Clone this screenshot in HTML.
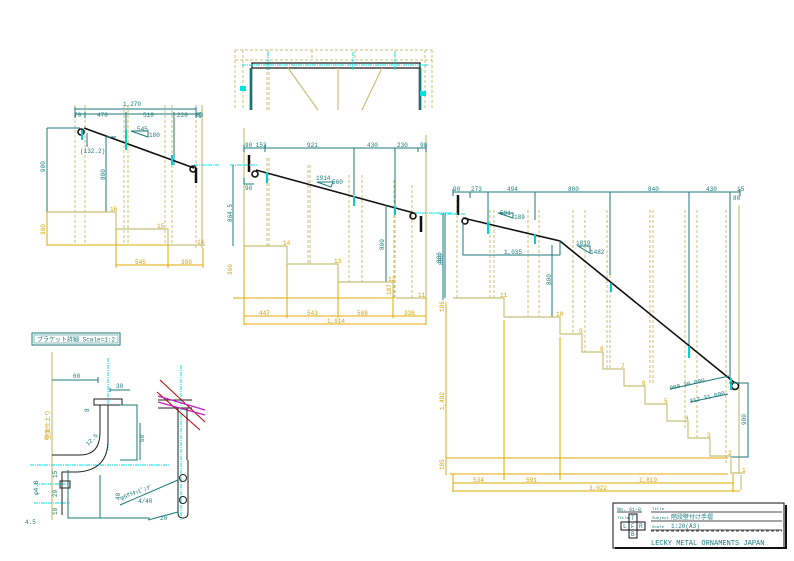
<!DOCTYPE html>
<html><head><meta charset="utf-8"><style>
html,body{margin:0;padding:0;background:#fff;}
svg{display:block;}
text{font-family:"Liberation Mono","Noto Sans CJK JP",monospace;font-size:6px;fill:#1a7a7a;}
.o{fill:#d9a000}
.tl{stroke:#1a7a7a;stroke-width:1;fill:none}
.dl{stroke:#c8c078;stroke-width:1;stroke-dasharray:3,2;fill:none}
.ol{stroke:#c8c078;stroke-width:1.2;fill:none}
.or{stroke:#e0a800;stroke-width:1;fill:none}
.hr{stroke:#111;stroke-width:1.6;fill:none}
.cy{stroke:#00e0e0;stroke-width:1;stroke-dasharray:4,1,1,1;fill:none}
</style></head><body>
<svg width="794" height="561" viewBox="0 0 794 561" xmlns="http://www.w3.org/2000/svg">
<rect width="794" height="561" fill="#fff"/>

<!-- ===== LEFT ELEVATION ===== -->
<g>
<path class="dl" d="M75 105V245M85 105V245M124 105V245M128 105V245M165 105V245M172 105V245M196 105V250"/>
<path class="ol" d="M202 105V248"/>
<path class="tl" d="M75 109H196M75 114H200M75 107V118M85 112V118M126 112V150M174 112V165M196 107V118M200 112V118"/>
<text x="123" y="106">1,270</text>
<text x="74" y="117">70</text><text x="97" y="117">470</text><text x="143" y="117">510</text><text x="177" y="117">220</text><text x="196" y="117">80</text>
<path class="hr" d="M84 128L194 168"/>
<circle cx="81" cy="132" r="3" class="hr" stroke-width="1.2"/>
<circle cx="193" cy="169" r="3" class="hr" stroke-width="1.2"/>
<path d="M196 168V183" stroke="#111" stroke-width="2.5"/>
<path class="cy" d="M194 165H220"/>
<path d="M126 130V150M172 155V165M82 130V140" stroke="#00d0d0" stroke-width="2"/>
<path class="tl" d="M47 128H80M47 128V212M106 137V212M106 137H116M87 133V146H88"/>
<text x="80" y="153">(132.2)</text>
<text transform="translate(45 172) rotate(-90)">900</text>
<text transform="translate(105 180) rotate(-90)">800</text>
<path class="tl" d="M131 131L148 131L148 137Z"/>
<text x="137" y="131">545</text><text x="149" y="137">180</text>
<path class="ol" d="M47 212H116V229H168V245H205"/>
<path class="or" d="M47 212V245H168M116 229V268M168 245V268M203 248V268M116 265H203"/>
<text class="o" transform="translate(45 235) rotate(-90)">360</text>
<text class="o" x="135" y="264">545</text><text class="o" x="181" y="264">380</text>
<text class="o" x="110" y="211">16</text><text class="o" x="157" y="228">15</text><text class="o" x="197" y="244">14</text>
</g>

<!-- ===== TOP PLAN ===== -->
<g>
<path class="dl" d="M235 50H432M235 60H432M235 50V110M243 50V110M425 50V110M432 50V110M268 50V60M312 50V60M355 50V60M395 50V60"/>
<path class="dl" d="M267 62V110M269 62V110M420 62V110"/>
<rect x="252" y="63" width="168" height="5" fill="none" stroke="#111" stroke-width="1.2"/>
<path d="M251 68V110M420 68V110" stroke="#111" stroke-width="2.5"/>
<path d="M251 68V110M420 68V110" stroke="#00e0e0" stroke-width="1"/>
<path class="ol" stroke-width="0.8" d="M288 68L318 110M382 68L362 110M338 68V110"/>
<path class="cy" d="M242 65H428M268 52V70M353 52V70M395 52V70"/>
<rect x="240" y="86" width="6" height="5" fill="#00e0e0"/><rect x="420" y="91" width="6" height="5" fill="#00e0e0"/>
</g>

<!-- ===== MIDDLE ELEVATION ===== -->
<g>
<path class="ol" d="M244 128V246M426 135V300"/>
<path class="dl" d="M267 158V246M269 158V246M308 165V264M310 165V264M349 175V282M362 175V282M394 180V298M395 180V298M412 185V298"/>
<path class="tl" d="M244 148H426M244 145V152M265 145V152M354 148V195M395 148V205M418 148V152M426 145V152"/>
<text x="245" y="147">90 153</text><text x="307" y="147">921</text><text x="367" y="147">430</text><text x="397" y="147">230</text><text x="420" y="147">90</text>
<path class="hr" d="M256 170L414 213"/>
<circle cx="255" cy="174" r="3" class="hr" stroke-width="1.2"/>
<circle cx="413" cy="216" r="3" class="hr" stroke-width="1.2"/>
<path d="M249 155V172M421 216V232" stroke="#111" stroke-width="2.5"/>
<path d="M267 172V183M354 196V206M395 206V215" stroke="#00d0d0" stroke-width="2"/>
<path class="cy" d="M230 165H258M415 213H452"/>
<path class="tl" d="M233 165V246M244 178V184H254M386 205V282M443 213V300"/>
<text transform="translate(232 222) rotate(-90)">864.5</text>
<text transform="translate(384 250) rotate(-90)">800</text>
<text transform="translate(441 263) rotate(-90)">886</text>
<text x="245" y="190">90</text>
<path class="tl" d="M317 182L333 182L331 187Z"/>
<text x="316" y="180">1914</text><text x="332" y="184">560</text>
<path class="ol" d="M244 246H287V264H338V282H393V298M396 298H426"/>
<path class="or" d="M233 298H393M244 246V325M287 264V318M338 282V318M393 298V318M426 298V325M244 316H426M244 324H426"/>
<text class="o" transform="translate(232 275) rotate(-90)">360</text>
<text class="o" transform="translate(391 295) rotate(-90)">187</text>
<text class="o" x="259" y="315">447</text><text class="o" x="307" y="315">543</text><text class="o" x="357" y="315">588</text><text class="o" x="404" y="315">336</text>
<text class="o" x="327" y="323">1,914</text>
<text class="o" x="283" y="245">14</text><text class="o" x="334" y="263">13</text><text class="o" x="388" y="281">12</text><text class="o" x="418" y="297">11</text>
</g>

<!-- ===== RIGHT ELEVATION ===== -->
<g>
<path class="dl" d="M457 200V298M490 210V298M494 210V298M528 210V317M539 210V317M573 210V334M585 210V352M607 210V370M610 210V370M650 210V385M653 210V385M685 210V430M697 210V440M726 210V465"/>
<path class="ol" d="M739 205V474M741 475V490"/>
<path class="tl" d="M453 192H740M453 189V196M470 192V198M488 192V225M535 192V220M610 192V275M689 192V345M730 192V380M740 189V196"/>
<text x="453" y="191">90</text><text x="471" y="191">273</text><text x="507" y="191">494</text><text x="568" y="191">800</text><text x="648" y="191">840</text><text x="706" y="191">430</text><text x="737" y="191">15</text>
<text x="733" y="200">80</text>
<path class="hr" d="M463 218L560 241L735 383"/>
<circle cx="465" cy="221" r="3" class="hr" stroke-width="1.2"/>
<circle cx="735" cy="386" r="3.5" class="hr" stroke-width="1.2"/>
<path d="M458 195V215" stroke="#111" stroke-width="2.5"/>
<path d="M488 222V234M535 234V244M611 283V292M689 346V358M731 378V390" stroke="#00d0d0" stroke-width="2"/>
<path class="cy" d="M440 214H466"/>
<path class="tl" d="M445 214V298M463 222V255H560M552 245V317M560 240V255M729 383H748V457H731"/>
<text transform="translate(443 265) rotate(-90)">886</text>
<text transform="translate(551 285) rotate(-90)">800</text>
<text transform="translate(746 425) rotate(-90)">900</text>
<text x="504" y="254">1,035</text>
<path class="tl" d="M498 213L513 213L513 218Z M578 246L590 246L590 253Z M670 389L729 376M690 402L728 394"/>
<text x="500" y="215">591</text><text x="514" y="219">189</text>
<text x="576" y="245">1819</text><text x="590" y="254">1482</text>
<text x="670" y="390" transform="rotate(-13 670 390)">900 30.000</text>
<text x="690" y="403" transform="rotate(-13 690 403)">312 31.000</text>
<path class="ol" d="M453 298H504V317H560V334H582V352H603V369H624V386H645V404H667V421H688V438H710V456H731V473H745"/>
<path class="or" d="M446 302V475M446 458H728M450 474H728M453 474V492M504 320V480M560 337V480M733 474V492M453 483H733M453 491H740"/>
<text class="o" transform="translate(444 410) rotate(-90)">1,482</text>
<text class="o" transform="translate(444 312) rotate(-90)">186</text>
<text class="o" transform="translate(444 470) rotate(-90)">185</text>
<text class="o" x="473" y="482">534</text><text class="o" x="526" y="482">591</text><text class="o" x="639" y="482">1,819</text>
<text class="o" x="589" y="490">3,022</text>
<text class="o" x="500" y="297">11</text><text class="o" x="556" y="316">10</text>
<text class="o" x="579" y="333">9</text><text class="o" x="600" y="351">8</text><text class="o" x="621" y="368">7</text><text class="o" x="642" y="385">6</text><text class="o" x="664" y="403">5</text><text class="o" x="685" y="420">4</text><text class="o" x="707" y="437">3</text><text class="o" x="728" y="455">2</text><text class="o" x="742" y="472">1</text>
</g>

<!-- ===== BRACKET DETAIL ===== -->
<g>
<rect x="32" y="333" width="88" height="12" fill="none" stroke="#1a7a7a"/>
<rect x="34" y="335" width="84" height="8" fill="none" stroke="#1a7a7a" stroke-width="0.5"/>
<text x="37" y="341.5">ブラケット詳細 Scale=1:2</text>
<path class="ol" stroke-width="1.5" d="M52 352V520"/>
<text class="o" transform="translate(50 440) rotate(-90)">壁面仕上り</text>
<path class="cy" d="M108 358V450M30 465H170M34 484H70M34 503H70M181 365V520"/>
<path class="tl" d="M52 380H98M98 377V383M110 390H130M110 388V392"/>
<text x="73" y="378">60</text><text x="116" y="388">30</text>
<rect x="94" y="399" width="28" height="6" fill="none" stroke="#222"/>
<path d="M100 405V432Q100 455 80 455H52M108 405V440Q108 470 78 472H62V515" fill="none" stroke="#222"/>
<path class="tl" d="M120 405H137V460H120M140 423V460M68 470V518H150M100 475V518"/>
<text transform="translate(144 442) rotate(-90)">60</text>
<text transform="translate(89 412) rotate(-90)">8</text>
<text transform="translate(57 478) rotate(-90)">15</text>
<text transform="translate(57 497) rotate(-90)">20</text>
<text transform="translate(57 515) rotate(-90)">10</text>
<text x="25" y="524">4.5</text>
<text x="38" y="495" transform="rotate(-90 38 495)">φ4.8</text>
<rect x="60" y="481" width="10" height="7" fill="none" stroke="#222"/>
<text x="88" y="446" transform="rotate(-45 88 446)">12.5</text>
<text transform="translate(120 500) rotate(-90)">40</text>
<path d="M158 400H192M158 408H192" stroke="#222"/>
<path d="M160 380L205 422M157 392L200 430" stroke="#c00000" stroke-width="1"/>
<path d="M158 396L205 410M158 402L205 415" stroke="#c020c0" stroke-width="1.2"/>
<path d="M178 408V460M187 408V460" stroke="#222"/>
<path d="M178 460V513Q178 518 183 518Q188 518 188 513V460" fill="none" stroke="#222"/>
<circle cx="183" cy="478" r="3.5" fill="none" stroke="#222"/><circle cx="183" cy="500" r="3.5" fill="none" stroke="#222"/>
<path class="tl" d="M120 505L178 480M148 520L178 512"/>
<text x="121" y="500" transform="rotate(-20 121 500)">φ5ｻﾗﾀｯﾋﾟﾝｸﾞ</text>
<text x="138" y="503">4/40</text>
<text x="160" y="520">20</text>
</g>

<!-- ===== TITLE BLOCK ===== -->
<g>
<rect x="613" y="503" width="171" height="45" fill="#fff" stroke="#111" stroke-width="1"/>
<path d="M615 548H786V505" stroke="#111" stroke-width="2" fill="none"/>
<text x="617" y="511" style="font-size:5px">No. 01-8</text>
<path d="M617 512H642M651 512H782M651 521H782M651 530H782" stroke="#111" stroke-width="0.8"/>
<path d="M651 531H782" stroke="#111" stroke-dasharray="3,2" stroke-width="0.8"/>
<text x="617" y="519" style="font-size:4px">Title</text>
<text x="652" y="510" style="font-size:4px">Title</text>
<text x="652" y="519" style="font-size:4px">Subject</text>
<text x="671" y="519" style="font-size:6px;fill:#1a7a7a">階段壁付け手摺</text>
<text x="652" y="528" style="font-size:4px">Scale</text>
<text x="671" y="528">1:20(A3)</text>
<rect x="629" y="514" width="8" height="8" fill="none" stroke="#111"/>
<rect x="621" y="522" width="24" height="8" fill="none" stroke="#111"/>
<path d="M629 522V530M637 522V530" stroke="#111"/>
<rect x="629" y="530" width="8" height="8" fill="none" stroke="#111"/>
<text x="631" y="520">T</text><text x="623" y="528">L</text><text x="631" y="528">F</text><text x="639" y="528">R</text><text x="631" y="536">B</text>
<text x="651" y="545" style="font-size:7px">LECKY METAL ORNAMENTS JAPAN</text>
</g>
</svg>
</body></html>
